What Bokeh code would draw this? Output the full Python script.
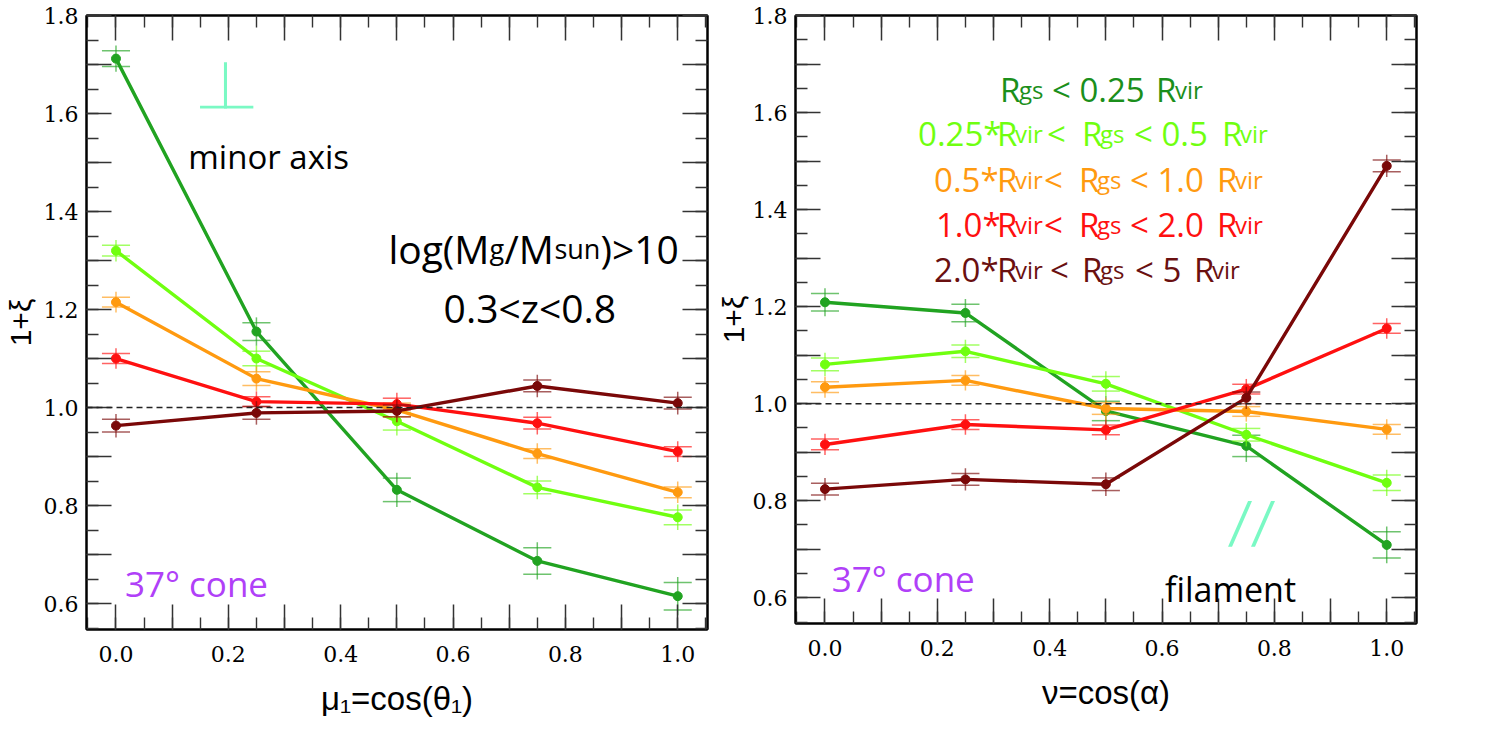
import math
from bokeh.plotting import figure
from bokeh.layouts import row
from bokeh.models import (Span, Label, LinearAxis, FixedTicker,
                          ColumnDataSource, BoxAnnotation, PolyAnnotation)
from bokeh.embed import file_html
from bokeh.resources import INLINE

# ---------------- data ----------------
x_bins = [0.0, 0.25, 0.5, 0.75, 1.0]

series_labels = ["Rgs < 0.25 Rvir", "0.25*Rvir< Rgs < 0.5 Rvir", "0.5*Rvir< Rgs < 1.0 Rvir",
                 "1.0*Rvir< Rgs < 2.0 Rvir", "2.0*Rvir < Rgs < 5 Rvir"]
line_colors = ["#21a321", "#70ff10", "#ff9a10", "#ff1010", "#7a0808"]
text_colors = ["#1b8f1b", "#70ff10", "#ff9a10", "#ff1010", "#6a1010"]

# left panel: mu1 = cos(theta1), minor axis
left_dg = [1.712, 1.155, 0.832, 0.687, 0.615]
left_dg_err = [0.016, 0.018, 0.024, 0.027, 0.028]
left_lg = [1.320, 1.100, 0.972, 0.837, 0.776]
left_lg_err = [0.011, 0.015, 0.018, 0.013, 0.015]
left_or = [1.215, 1.059, 0.995, 0.906, 0.827]
left_or_err = [0.010, 0.014, 0.014, 0.010, 0.011]
left_rd = [1.100, 1.012, 1.007, 0.968, 0.910]
left_rd_err = [0.010, 0.010, 0.012, 0.012, 0.010]
left_dr = [0.963, 0.989, 0.993, 1.044, 1.009]
left_dr_err = [0.013, 0.013, 0.012, 0.012, 0.012]

# right panel: nu = cos(alpha), filament
right_dg = [1.209, 1.187, 0.985, 0.913, 0.709]
right_dg_err = [0.018, 0.018, 0.020, 0.022, 0.027]
right_lg = [1.081, 1.108, 1.041, 0.936, 0.837]
right_lg_err = [0.013, 0.013, 0.015, 0.013, 0.016]
right_or = [1.034, 1.048, 0.990, 0.984, 0.947]
right_or_err = [0.011, 0.010, 0.012, 0.010, 0.010]
right_rd = [0.916, 0.957, 0.946, 1.030, 1.155]
right_rd_err = [0.011, 0.010, 0.010, 0.010, 0.010]
right_dr = [0.824, 0.844, 0.834, 1.012, 1.490]
right_dr_err = [0.012, 0.012, 0.013, 0.012, 0.012]

x_major_ticks = [0.0, 0.1, 0.2, 0.3, 0.4, 0.5, 0.6, 0.7, 0.8, 0.9, 1.0]
x_tick_labels = ["0.0", "", "0.2", "", "0.4", "", "0.6", "", "0.8", "", "1.0"]
x_minor_ticks = [round(-0.05 + 0.05 * i, 2) for i in range(23)]
y_major_ticks = [0.6, 0.7, 0.8, 0.9, 1.0, 1.1, 1.2, 1.3, 1.4, 1.5, 1.6, 1.7, 1.8]
y_tick_labels = ["0.6", "", "0.8", "", "1.0", "", "1.2", "", "1.4", "", "1.6", "", "1.8"]
y_minor_ticks = [round(0.55 + 0.05 * i, 2) for i in range(26)]

left_series = [(left_dg, left_dg_err), (left_lg, left_lg_err), (left_or, left_or_err),
               (left_rd, left_rd_err), (left_dr, left_dr_err)]
right_series = [(right_dg, right_dg_err), (right_lg, right_lg_err), (right_or, right_or_err),
                (right_rd, right_rd_err), (right_dr, right_dr_err)]

# ---------------- styling ----------------
ANN_FONT = "Open Sans"
TICK_FONT = "DejaVu Serif"
LABEL_FONT = "Liberation Sans, Arial, DejaVu Sans, sans-serif"
CAP_HALF = 0.025
ERR_EXT = 0.011


def style_axis(ax, ticks, labels, standoff, size):
    ax.ticker = FixedTicker(ticks=ticks, minor_ticks=(x_minor_ticks if ticks is x_major_ticks else y_minor_ticks))
    ax.axis_line_color = "black"
    ax.axis_line_width = 2
    ax.major_tick_in = 25
    ax.major_tick_out = 0
    ax.minor_tick_in = 12
    ax.minor_tick_out = 0
    ax.major_tick_line_color = "#333333"
    ax.major_tick_line_width = 1.5
    ax.minor_tick_line_color = "#333333"
    ax.minor_tick_line_width = 1.4
    ax.major_label_overrides = {t: lab for t, lab in zip(ticks, labels)}
    ax.major_label_text_font = TICK_FONT
    ax.major_label_text_font_size = size
    ax.major_label_text_color = "black"
    ax.major_label_standoff = standoff


def make_panel(series, xlabel, ylabel, ylabel_standoff, border_left, border_right, fheight):
    p = figure(frame_width=621, frame_height=fheight, x_range=(-0.0525, 1.053), y_range=(0.547, 1.8),
               output_backend="svg", toolbar_location=None,
               min_border_left=border_left, min_border_top=15,
               min_border_right=border_right, min_border_bottom=90)
    p.xgrid.visible = False
    p.ygrid.visible = False
    p.outline_line_color = "black"
    p.outline_line_width = 2
    p.background_fill_color = "white"
    p.border_fill_color = "white"

    style_axis(p.xaxis[0], x_major_ticks, x_tick_labels, 16, "22px")
    style_axis(p.yaxis[0], y_major_ticks, y_tick_labels, 8, "22px")
    p.xaxis.axis_label = xlabel
    p.xaxis.axis_label_text_font = LABEL_FONT
    p.xaxis.axis_label_text_font_size = "33px"
    p.xaxis.axis_label_text_font_style = "normal"
    p.xaxis.axis_label_text_color = "black"
    p.xaxis.axis_label_standoff = 15
    p.yaxis.axis_label = ylabel
    p.yaxis.axis_label_text_font = LABEL_FONT
    p.yaxis.axis_label_text_font_size = "30px"
    p.yaxis.axis_label_text_font_style = "normal"
    p.yaxis.axis_label_text_color = "black"
    p.yaxis.axis_label_standoff = ylabel_standoff

    ax_r = LinearAxis()
    style_axis(ax_r, y_major_ticks, y_tick_labels, 0, "1px")
    ax_r.major_label_text_alpha = 0.0
    p.add_layout(ax_r, "right")
    ax_t = LinearAxis()
    style_axis(ax_t, x_major_ticks, x_tick_labels, 0, "1px")
    ax_t.major_label_text_alpha = 0.0
    p.add_layout(ax_t, "above")

    p.add_layout(Span(location=1.0, dimension="width", line_color="#222222",
                      line_width=1.4, line_dash="6 4"))

    for (vals, errs), col in zip(series, line_colors):
        src = ColumnDataSource(dict(
            x=x_bins, y=vals,
            xl=[x - CAP_HALF for x in x_bins], xr=[x + CAP_HALF for x in x_bins],
            lo=[v - e for v, e in zip(vals, errs)], hi=[v + e for v, e in zip(vals, errs)],
            lo2=[v - e - ERR_EXT for v, e in zip(vals, errs)],
            hi2=[v + e + ERR_EXT for v, e in zip(vals, errs)],
        ))
        p.segment(x0="x", x1="x", y0="lo2", y1="hi2", source=src, line_color=col,
                  line_alpha=0.65, line_width=1.5)
        p.segment(x0="xl", x1="xr", y0="lo", y1="lo", source=src, line_color=col,
                  line_alpha=0.65, line_width=1.5)
        p.segment(x0="xl", x1="xr", y0="hi", y1="hi", source=src, line_color=col,
                  line_alpha=0.65, line_width=1.5)
        p.line("x", "y", source=src, line_color=col, line_width=3.4)
        p.scatter("x", "y", source=src, size=9, fill_color=col, line_color=col)
    return p


def put(p, x, y, text, size, color, font=ANN_FONT):
    p.add_layout(Label(x=x, y=y, text=text, text_font=font, text_font_size=size,
                       text_color=color, text_baseline="alphabetic", text_align="left"))


p1 = make_panel(left_series, "\u03bc\u2081=cos(\u03b8\u2081)", "1+\u03be", 4, 80, 6, 614)
p2 = make_panel(right_series, "\u03bd=cos(\u03b1)", "1+\u03be", 0, 81, 20, 608)

# ---------- left panel annotations ----------
AQUA = "#7af9c4"
p1.add_layout(BoxAnnotation(left=0.1922, right=0.1976, bottom=1.610, top=1.7044,
                            fill_color=AQUA, fill_alpha=1.0, line_color=None))
p1.add_layout(BoxAnnotation(left=0.1496, right=0.2445, bottom=1.610, top=1.616,
                            fill_color=AQUA, fill_alpha=1.0, line_color=None))
put(p1, 0.1287, 1.512, "minor axis", "33px", "black")

log_pieces = [("log(M", "39px", 0.4849), ("g", "27px", 0.6647), ("/M", "39px", 0.6914),
              ("sun", "27px", 0.7805), (")>10", "39px", 0.8623)]
for t, s, x in log_pieces:
    put(p1, x, 1.3253, t, s, "black")
put(p1, 0.5832, 1.204, "0.3<z<0.8", "39px", "black")
put(p1, 0.016, 0.640, "37\u00b0 cone", "35px", "#b040f8")

# ---------- right panel annotations ----------
put(p2, 0.012, 0.640, "37\u00b0 cone", "35px", "#b040f8")
put(p2, 0.6053, 0.6176, "filament", "34px", "black")
p2.add_layout(PolyAnnotation(xs=[0.7531, 0.7602, 0.7246, 0.7175], ys=[0.7994, 0.7994, 0.7051, 0.7051],
                             fill_color=AQUA, fill_alpha=1.0, line_color=None))
p2.add_layout(PolyAnnotation(xs=[0.7940, 0.8011, 0.7655, 0.7584], ys=[0.7994, 0.7994, 0.7051, 0.7051],
                             fill_color=AQUA, fill_alpha=1.0, line_color=None))

B, S = "33px", "24px"
legend_lines = [
    (1.648, [("R", B, 0.3116), ("gs", S, 0.3454), ("< 0.25", B, 0.4041), ("R", B, 0.5893), ("vir", S, 0.6231)]),
    (1.556, [("0.25*", B, 0.1656), ("R", B, 0.3062), ("vir", S, 0.3383), ("<", B, 0.3952), ("R", B, 0.4575),
             ("gs", S, 0.4896), ("< 0.5", B, 0.5501), ("R", B, 0.7068), ("vir", S, 0.7388)]),
    (1.463, [("0.5*", B, 0.1941), ("R", B, 0.3062), ("vir", S, 0.3383), ("<", B, 0.3899), ("R", B, 0.4522),
             ("gs", S, 0.4842), ("< 1.0", B, 0.5430), ("R", B, 0.6979), ("vir", S, 0.7299)]),
    (1.370, [("1.0*", B, 0.1976), ("R", B, 0.3062), ("vir", S, 0.3383), ("<", B, 0.3899), ("R", B, 0.4522),
             ("gs", S, 0.4842), ("< 2.0", B, 0.5430), ("R", B, 0.6979), ("vir", S, 0.7299)]),
    (1.276, [("2.0*", B, 0.1941), ("R", B, 0.3062), ("vir", S, 0.3383), ("<", B, 0.4006), ("R", B, 0.4575),
             ("gs", S, 0.4896), ("< 5", B, 0.5519), ("R", B, 0.6569), ("vir", S, 0.6890)]),
]
for (yb, pieces), col in zip(legend_lines, text_colors):
    for t, s, x in pieces:
        put(p2, x, yb, t, s, col)

layout = row(p1, p2)
open("out.html", "w").write(file_html(layout, INLINE))
